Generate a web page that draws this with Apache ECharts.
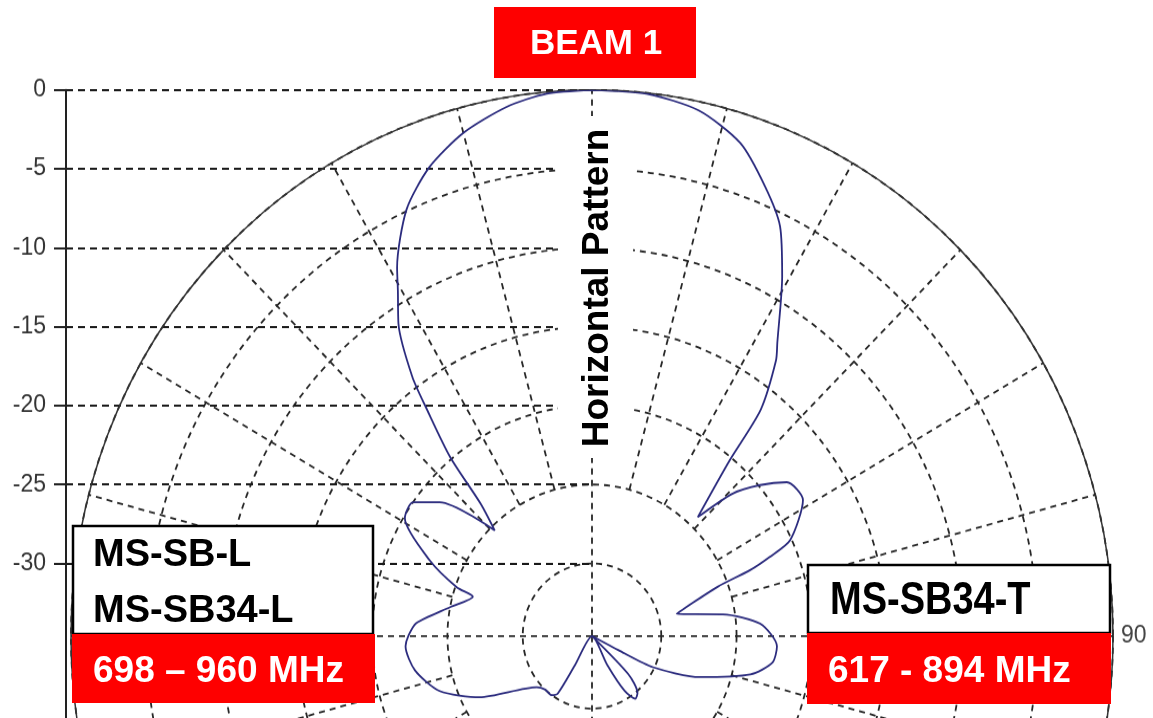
<!DOCTYPE html>
<html>
<head>
<meta charset="UTF-8">
<title>Horizontal Pattern</title>
<script src="https://cdn.jsdelivr.net/npm/echarts@6/dist/echarts.min.js"></script>
<style type="text/css">
	html, body { margin: 0; padding: 0; background: #fff; }
	#wrap { position: relative; width: 1153px; height: 718px; overflow: hidden; }
	/* the source plot is slightly taller than wide, so the polar layer is stretched */
	#polar { position: absolute; left: 0; top: 0; width: 1153px; height: 685px; transform: scaleY(1.04818); transform-origin: 0 0; }
	#overlay { position: absolute; left: 0; top: 0; width: 1153px; height: 718px; }
</style>
</head>
<body>
<div id="wrap">
	<div id="polar"></div>
	<div id="overlay"></div>
</div>
<script type="text/javascript">
	// pattern: angle (deg, clockwise from top) and gain (dB)
	var angles = [0, 6, 12, 17.5, 22, 25.7, 29, 33.5, 35, 38, 39.4, 43, 46, 49.4, 53, 58.4, 65.2, 67, 68.3, 69.5,
		76, 81, 86, 93, 98, 103, 110, 116, 117, 119, 130, 135, 140, 144, 148, 151, 154, 209, 211.5, 212,
		215.5, 222.5, 228.5, 242.5, 251, 259.5, 267, 270, 274, 281, 287.5, 289, 294, 301, 305.5, 310, 316,
		318.6, 320.3, 322.6, 324, 327, 329.5, 331, 335.5, 340, 345, 350.4, 355, 360];
	var gains = [0, -0.05, -0.55, -1.85, -3.9, -5.8, -8.55, -12.3, -13.3, -16.4, -20.2, -24.3, -21.6, -19.9, -18.4, -18.15, -20.1, -21.8, -23.3, -25.7,
		-28.8, -25.8, -23.4, -22.3, -22.5, -23.8, -27.0, -30.1, -32.5, -34.6, -34.6, -31.2, -29.9, -29.7, -30.5, -32.5, -34.6, -34.6, -32.4, -30.3,
		-30.0, -30.0, -29.7, -26.2, -23.9, -22.65, -22.2, -22.4, -22.9, -25.0, -26.3, -25.1, -22.8, -20.1, -20.0, -21.4, -25.3,
		-23.4, -19.85, -16.6, -14.3, -11.0, -9.2, -7.9, -4.9, -3.0, -1.6, -0.6, -0.1, 0];
	var dbTicks = [0, -5, -10, -15, -20, -25, -30];
	var angleLabels = [0, 90];
	var spokeAngles = [0, 15, 30, 45, 60, 75, 90, 105, 120, 135, 150, 165, 180, 195, 210, 225, 240, 255, 270, 285, 300, 315, 330, 345];
	var fullSpokes = [0, 90, 180, 270];
	var dbCenter = -34.6;
	var spokeInner = -25;

	var gridColor = '#262626';
	var dashGrid = [6, 5];
	var patternData = [];
	for(var i = 0; i < angles.length; i++) {
		patternData.push([gains[i], angles[i]]);
	}
	var spokeData = [];
	for(var j = 0; j < spokeAngles.length; j++) {
		spokeData.push([0, spokeAngles[j]]);
	}

	var polarChart = echarts.init(document.getElementById('polar'));
	polarChart.setOption({
		animation: false,
		backgroundColor: '#fff',
		polar: {
			center: [592, 606.8],
			radius: 521
		},
		angleAxis: {
			type: 'value',
			min: 0,
			max: 360,
			interval: 15,
			startAngle: 90,
			clockwise: true,
			axisLine: { show: true, lineStyle: { color: '#333', width: 1.5 } },
			axisTick: { show: false },
			splitLine: { show: false },
			axisLabel: {
				margin: 8,
				color: '#444',
				fontFamily: 'Liberation Sans',
				fontSize: 23,
				formatter: function(value) {
					return angleLabels.indexOf(value) >= 0 ? String(value) : '';
				}
			}
		},
		radiusAxis: {
			type: 'value',
			min: dbCenter,
			max: 0,
			minInterval: 5,
			maxInterval: 5,
			axisLine: { show: false },
			axisTick: { show: false },
			axisLabel: { show: false },
			splitLine: { show: true, lineStyle: { color: gridColor, width: 1.8, type: dashGrid } }
		},
		grid: {
			left: 66,
			top: 85.8,
			width: 526,
			height: 602.3,
			outerBoundsMode: 'none'
		},
		xAxis: {
			type: 'value',
			min: 0,
			max: 1,
			show: false
		},
		yAxis: {
			type: 'value',
			min: -40,
			max: 0,
			interval: 5,
			axisLine: { show: true, onZero: false, lineStyle: { color: '#222', width: 2 } },
			axisTick: { show: true, length: 12, customValues: dbTicks, lineStyle: { color: '#222', width: 2 } },
			axisLabel: {
				customValues: dbTicks,
				margin: 20,
				color: '#333',
				fontFamily: 'Liberation Sans',
				fontSize: 23
			},
			splitLine: { show: true, lineStyle: { color: '#1a1a1a', width: 2.2, type: [7, 5] } }
		},
		series: [{
			// radial grid: the four main axes run to the centre, the others stop at -25 dB
			type: 'custom',
			coordinateSystem: 'polar',
			data: spokeData,
			silent: true,
			z: 1,
			renderItem: function(params, api) {
				var a = api.value(1);
				var inner = fullSpokes.indexOf(a) >= 0 ? dbCenter : spokeInner;
				var p0 = api.coord([inner, a]);
				var p1 = api.coord([0, a]);
				return {
					type: 'line',
					shape: { x1: p0[0], y1: p0[1], x2: p1[0], y2: p1[1] },
					style: { stroke: gridColor, lineWidth: 1.8, lineDash: dashGrid }
				};
			}
		}, {
			type: 'line',
			coordinateSystem: 'polar',
			data: patternData,
			showSymbol: false,
			symbol: 'none',
			smooth: 0.25,
			lineStyle: { color: '#2b2b7e', width: 1.8 },
			z: 5
		}]
	});

	var red = '#fe0000';
	var labelFont = '"Liberation Sans", Arial, sans-serif';
	var overlayChart = echarts.init(document.getElementById('overlay'));
	overlayChart.setOption({
		animation: false,
		graphic: [
			{ type: 'rect', shape: { x: 558, y: 116, width: 75, height: 342 }, style: { fill: '#fff' } },
			{ type: 'text', x: 598, y: 288, rotation: Math.PI / 2,
				style: { text: 'Horizontal Pattern', fill: '#000', font: 'bold 37px ' + labelFont, align: 'center', verticalAlign: 'middle' } },
			{ type: 'rect', shape: { x: 494, y: 7, width: 202, height: 71 }, style: { fill: red } },
			{ type: 'text', x: 596, y: 44,
				style: { text: 'BEAM 1', fill: '#fff', font: 'bold 35px ' + labelFont, align: 'center', verticalAlign: 'middle' } },

			{ type: 'rect', shape: { x: 73, y: 526, width: 300, height: 108 }, style: { fill: '#fff', stroke: '#000', lineWidth: 2.5 } },
			{ type: 'rect', shape: { x: 72, y: 634, width: 303, height: 69 }, style: { fill: red } },
			{ type: 'text', x: 93, y: 556,
				style: { text: 'MS-SB-L', fill: '#000', font: 'bold 38px ' + labelFont, align: 'left', verticalAlign: 'middle' } },
			{ type: 'text', x: 93, y: 612,
				style: { text: 'MS-SB34-L', fill: '#000', font: 'bold 38px ' + labelFont, align: 'left', verticalAlign: 'middle' } },
			{ type: 'text', x: 93, y: 672,
				style: { text: '698 \u2013 960 MHz', fill: '#fff', font: 'bold 37px ' + labelFont, align: 'left', verticalAlign: 'middle' } },

			{ type: 'rect', shape: { x: 808, y: 565, width: 302, height: 68 }, style: { fill: '#fff', stroke: '#000', lineWidth: 2.5 } },
			{ type: 'rect', shape: { x: 807, y: 633, width: 304, height: 71 }, style: { fill: red } },
			{ type: 'text', x: 830, y: 601, scaleY: 1.2,
				style: { text: 'MS-SB34-T', fill: '#000', font: 'bold 38px ' + labelFont, align: 'left', verticalAlign: 'middle' } },
			{ type: 'text', x: 828, y: 672,
				style: { text: '617 - 894 MHz', fill: '#fff', font: 'bold 37px ' + labelFont, align: 'left', verticalAlign: 'middle' } }
		]
	});
</script>
</body>
</html>
